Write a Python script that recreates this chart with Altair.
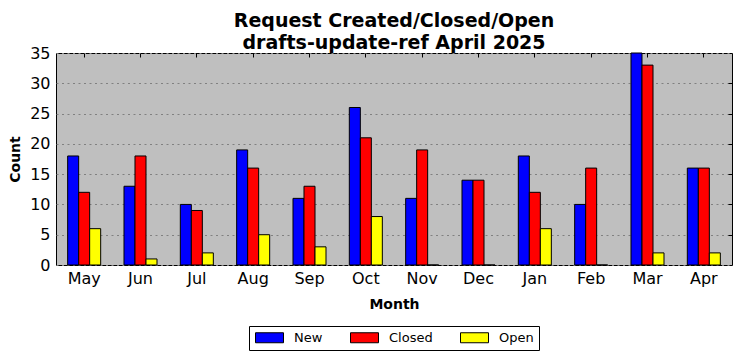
import altair as alt
import pandas as pd

months = ["May", "Jun", "Jul", "Aug", "Sep", "Oct", "Nov", "Dec", "Jan", "Feb", "Mar", "Apr"]
series = ["New", "Closed", "Open"]
new_vals = [18, 13, 10, 19, 11, 26, 11, 14, 18, 10, 35, 16]
closed_vals = [12, 18, 9, 16, 13, 21, 19, 14, 12, 16, 33, 16]
open_vals = [6, 1, 2, 5, 3, 8, 0, 0, 6, 0, 2, 2]
colors = ["#0000ff", "#ff0000", "#ffff00"]
y_ticks = [0, 5, 10, 15, 20, 25, 30, 35]

rows = []
for name, vals in zip(series, [new_vals, closed_vals, open_vals]):
    for m, v in zip(months, vals):
        rows.append({"Month": m, "Series": name, "Count": v})
df = pd.DataFrame(rows)

FONT = "DejaVu Sans"

xscale = alt.Scale(paddingInner=0.414, paddingOuter=0.207)
yscale = alt.Scale(domain=[0, 35], nice=False)

base = alt.Chart(df)

bars = base.mark_bar(stroke="black", strokeWidth=1, opacity=1).encode(
    x=alt.X("Month:N", sort=months, scale=xscale,
            axis=alt.Axis(title="Month", labelAngle=0, ticks=False, domain=False,
                          labelFontSize=16, labelFont=FONT, labelColor="black",
                          labelPadding=5, titleFont=FONT, titleFontSize=14,
                          titleFontWeight="bold", titleColor="black", titlePadding=11)),
    xOffset=alt.XOffset("Series:N", sort=series,
                        scale=alt.Scale(domain=series, paddingInner=0, paddingOuter=0)),
    y=alt.Y("Count:Q", scale=yscale,
            axis=alt.Axis(title="Count", values=y_ticks, ticks=False, domain=False,
                          grid=True, gridColor="#808080", gridDash=[2, 3.5], gridWidth=1,
                          labelFontSize=16, labelFont=FONT, labelColor="black",
                          labelPadding=6, titleFont=FONT, titleFontSize=14,
                          titleFontWeight="bold", titleColor="black", titlePadding=7)),
    color=alt.Color("Series:N", sort=series,
                    scale=alt.Scale(domain=series, range=colors),
                    legend=alt.Legend(title=None, orient="none", direction="horizontal",
                                      columns=3, legendX=193, legendY=273,
                                      symbolType="M-1,-1h5.6v2h-5.6z", symbolSize=100,
                                      symbolStrokeColor="black", symbolStrokeWidth=1,
                                      symbolOpacity=1,
                                      labelFont=FONT, labelFontSize=13, labelColor="black",
                                      labelOffset=27, columnPadding=25,
                                      padding=5, strokeColor="black", fillColor="white")),
)

ticks = base.mark_point(opacity=0).encode(
    x=alt.X("Month:N", sort=months, scale=xscale,
            axis=alt.Axis(orient="top", title=None, labels=False, domain=False,
                          ticks=True, tickSize=4, tickColor="black", tickWidth=1,
                          offset=-4, grid=False)),
    y=alt.Y("Count:Q", scale=yscale,
            axis=alt.Axis(orient="right", title=None, labels=False, domain=False,
                          ticks=True, tickSize=4, tickColor="black", tickWidth=1,
                          values=[5, 10, 15, 20, 25, 30], offset=-4, grid=False)),
)

chart = alt.layer(bars, ticks).resolve_axis(x="independent", y="independent").properties(
    width=676,
    height=212,
    background="white",
    autosize=alt.AutoSizeParams(type="none"),
    padding={"left": 48, "top": 45, "right": 2, "bottom": 88},
    title=alt.TitleParams(["Request Created/Closed/Open", "drafts-update-ref April 2025"],
                          font=FONT, fontSize=19, fontWeight="bold", color="black",
                          anchor="middle", lineHeight=22, offset=-8),
).configure_view(
    fill="#bfbfbf", stroke="black", strokeWidth=1
)

chart.save("out.html", embed_options={"renderer": "svg", "actions": False})
